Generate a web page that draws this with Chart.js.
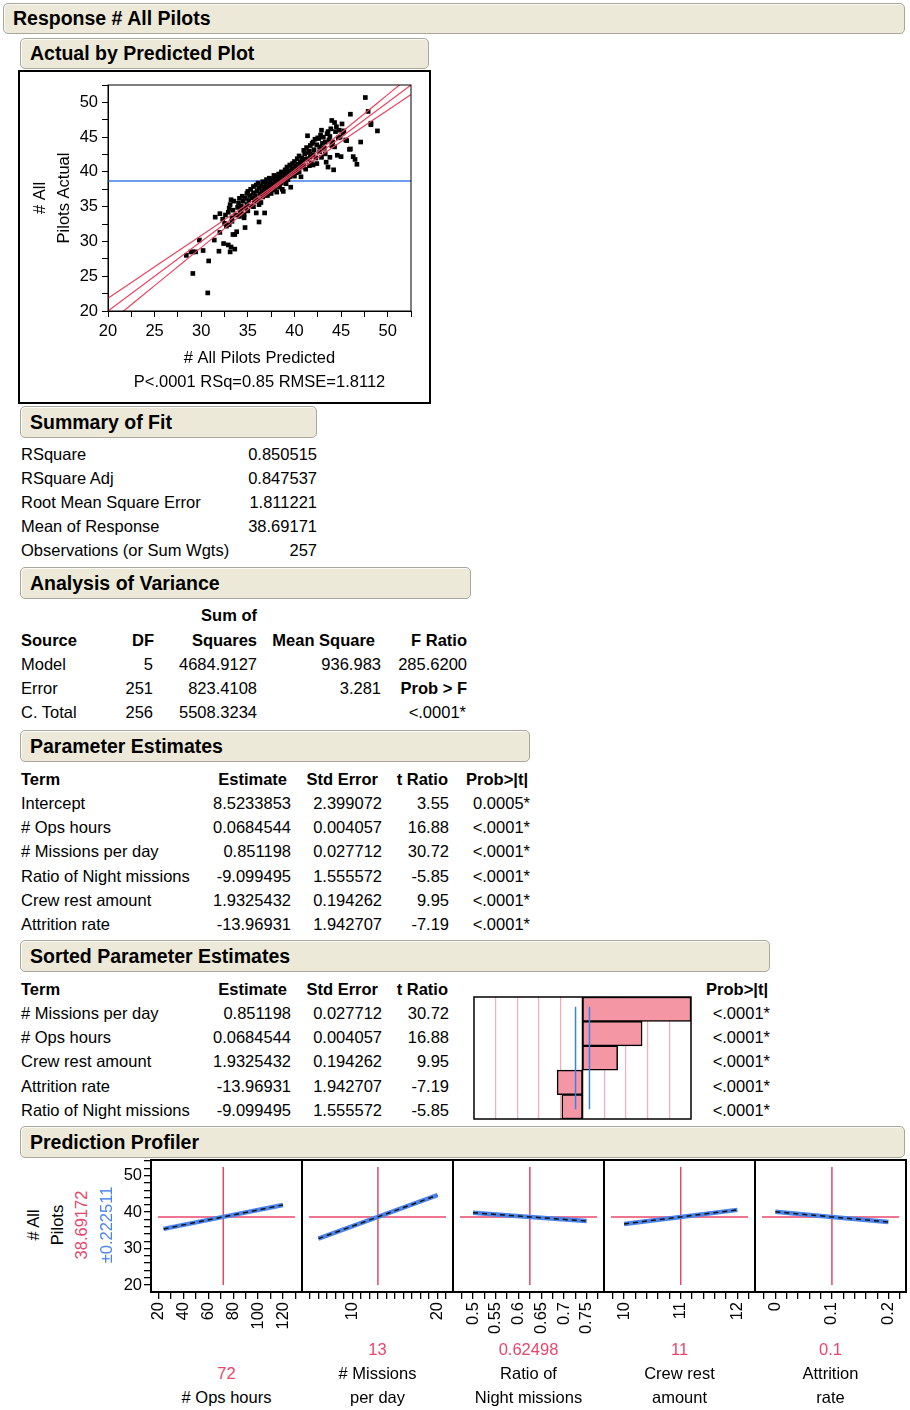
<!DOCTYPE html>
<html><head><meta charset="utf-8">
<script src="https://cdn.jsdelivr.net/npm/chart.js@4.4.1/dist/chart.umd.min.js"></script>
<style>
body{margin:0;background:#fff;font-family:'Liberation Sans',Arial,sans-serif;color:#000;}
#page{position:relative;width:910px;height:1410px;overflow:hidden;}
.hdr{position:absolute;box-sizing:border-box;background:#ece9d8;border:1.5px solid #a9a79b;border-radius:5px;font-weight:bold;font-size:19.5px;padding-left:9px;display:flex;align-items:center;box-shadow:inset 1px 1px 0 #fbfaf4;}
.t{position:absolute;font-size:16.5px;line-height:24px;white-space:nowrap;}
.b{font-weight:bold;}
.r{transform:translateX(-100%);}
.c{transform:translateX(-50%);}
canvas{position:absolute;}
.rot{position:absolute;width:140px;text-align:center;font-size:16.5px;line-height:24px;white-space:nowrap;transform:rotate(-90deg);transform-origin:50% 50%;}
</style></head><body><div id="page">
<div id="frame1" style="position:absolute;left:18px;top:70px;width:413px;height:334px;box-sizing:border-box;border:2px solid #000;"></div>
</div>
<script>
// ---------- DATA ----------
const predicted = [
 28.4,28.9,29.1,29.4,29.1,29.8,30.2,30.7,30.8,31.4,31.9,32.0,31.5,32.0,
 32.4,32.9,33.2,33.6,33.1,32.3,32.5,32.7,32.6,32.9,33.0,33.1,33.2,33.3,33.4,33.0,33.5,33.4,33.6,33.8,33.3,33.7,
 33.9,34.0,34.1,34.2,34.3,34.4,34.5,34.6,34.6,34.7,34.8,34.9,34.9,34.1,34.3,34.7,35.0,35.0,35.1,35.2,
 35.3,35.4,35.5,35.6,35.6,35.7,35.8,35.9,35.9,36.0,36.1,36.1,36.2,36.2,36.3,36.4,36.4,36.5,36.6,36.6,36.2,35.6,
 36.7,36.8,36.8,36.9,37.0,37.0,37.1,37.2,37.3,37.3,37.4,37.5,37.5,37.6,37.7,37.7,37.8,37.9,37.9,38.0,37.2,37.6,37.0,36.9,
 38.1,38.1,38.2,38.3,38.4,38.4,38.5,38.6,38.6,38.7,38.8,38.8,38.9,39.0,39.0,39.1,39.2,39.2,39.3,39.4,39.5,39.5,38.3,38.9,
 39.6,39.7,39.7,39.8,39.9,40.0,40.0,40.1,40.2,40.3,40.3,40.4,40.5,40.5,40.6,40.7,40.7,40.8,40.8,40.9,41.0,41.0,
 41.1,41.1,41.2,41.3,41.4,41.4,41.5,41.6,41.7,41.7,41.8,41.9,42.0,42.0,42.0,42.1,42.2,42.3,42.4,42.4,42.5,41.6,
 42.6,42.7,42.7,42.8,42.9,42.9,43.0,43.1,43.2,43.3,43.3,43.4,43.5,43.6,43.6,43.7,43.8,43.9,44.0,44.0,43.8,
 44.1,44.2,44.3,44.3,44.4,44.5,44.6,44.7,44.8,45.0,45.1,45.2,45.3,45.5,44.9,
 45.6,45.9,46.0,46.0,46.3,46.5,46.7,47.1,47.6,47.9,48.2,48.2,48.9
];
const actual = [
 28.0,28.5,28.5,28.5,25.4,30.2,28.7,22.6,27.2,30.2,28.6,31.3,33.5,34.0,
 29.7,29.5,29.2,28.9,28.5,33.2,32.6,32.2,33.8,34.2,34.8,35.3,36.0,33.4,34.5,32.4,35.8,31.0,31.0,31.4,32.9,33.8,
 34.9,35.5,36.2,34.2,35.1,36.5,35.8,33.9,33.4,32.0,34.8,36.9,35.3,33.6,34.6,36.2,37.2,34.4,35.9,36.6,
 37.5,35.1,36.3,37.9,37.0,35.8,36.6,38.1,34.1,37.3,36.0,38.4,32.8,37.7,36.8,38.0,35.6,37.2,38.6,36.4,35.3,35.0,
 37.8,34.1,36.9,38.3,37.4,38.9,36.6,38.0,37.0,39.1,38.4,37.6,36.9,39.0,38.2,37.4,39.5,38.6,37.7,38.9,38.6,37.9,37.9,37.5,
 37.1,39.3,38.2,39.7,38.6,37.8,39.2,40.0,38.4,37.5,39.6,37.2,38.8,40.3,39.1,38.3,40.7,39.6,38.9,40.1,39.3,41.0,38.9,39.9,
 37.8,40.5,39.7,41.2,40.2,39.4,41.5,40.8,39.9,41.9,40.4,41.1,40.0,42.3,41.4,39.3,40.8,42.0,40.7,41.6,43.1,40.9,
 41.8,42.6,40.4,43.5,45.2,41.9,42.8,40.9,43.8,42.2,41.3,44.1,44.3,42.5,41.0,43.2,44.7,42.0,43.9,41.2,44.9,43.0,
 44.8,42.9,43.6,45.3,46.0,42.1,44.1,45.0,43.4,44.3,42.6,41.4,45.5,45.8,40.7,44.6,42.1,46.2,43.8,47.4,45.1,
 44.3,40.3,47.1,43.6,45.8,46.5,42.4,44.9,46.0,42.2,46.9,45.6,45.9,44.6,45.0,
 44.5,43.25,48.3,43.3,42.2,41.8,41.1,44.3,50.7,48.7,47.0,46.8,45.9
];
const fitLineX = [20, 52.5];
const fitLineY = [20, 52.5];
const bandX     = [20, 22, 25, 28, 31, 34, 36, 38.7, 41, 44, 47, 50, 52.5];
const bandUpper = [21.83, 23.63, 26.35, 29.06, 31.77, 34.50, 36.34, 38.92, 41.32, 44.56, 47.83, 51.12, 53.86];
const bandLower = [18.17, 20.37, 23.65, 26.94, 30.23, 33.50, 35.66, 38.48, 40.68, 43.44, 46.17, 48.88, 51.14];
const meanResponse = 38.69171;
const scatterTicks = [20,22.5,25,27.5,30,32.5,35,37.5,40,42.5,45,47.5,50,52.5];
const scatterTickLabels = ['20','','25','','30','','35','','40','','45','','50',''];

const sortedTerms = ['# Missions per day','# Ops hours','Crew rest amount','Attrition rate','Ratio of Night missions'];
const sortedEstimate = ['0.851198','0.0684544','1.9325432','-13.96931','-9.099495'];
const sortedStdErr = ['0.027712','0.004057','0.194262','1.942707','1.555572'];
const sortedT = [30.72, 16.88, 9.95, -7.19, -5.85];
const sortedProb = ['<.0001*','<.0001*','<.0001*','<.0001*','<.0001*'];
const tGridLines = [-24.58,-18.43,-12.29,-6.14,6.14,12.29,18.43,24.58];
const tCritical = 1.969;

const profPrediction = 38.69172;
const profCI = '±0.222511';
const profYTicks = [20,22,24,26,28,30,32,34,36,38,40,42,44,46,48,50,52,54];
const profYLabels = ['20','','','','','30','','','','','40','','','','','50','',''];

const opsX = [24, 72, 120];            const opsY = [35.40, 38.69, 41.98];
const missionsX = [6, 13, 20];         const missionsY = [32.73, 38.69, 44.65];
const nightX = [0.5, 0.625, 0.75];     const nightY = [39.83, 38.69, 37.55];
const crewX = [10, 11, 12];            const crewY = [36.76, 38.69, 40.62];
const attritionX = [0, 0.1, 0.2];      const attritionY = [40.09, 38.69, 37.30];

const opsTicks = [20,30,40,50,60,70,80,90,100,110,120,130];
const opsLabels = ['20','','40','','60','','80','','100','','120',''];
const missionsTicks = [5,6,7,8,9,10,11,12,13,14,15,16,17,18,19,20,21];
const missionsLabels = ['','','','','','10','','','','','','','','','','20',''];
const nightTicks = [0.475,0.5,0.525,0.55,0.575,0.6,0.625,0.65,0.675,0.7,0.725,0.75,0.775];
const nightLabels = ['','0.5','','0.55','','0.6','','0.65','','0.7','','0.75',''];
const crewTicks = [9.8,10,10.2,10.4,10.6,10.8,11,11.2,11.4,11.6,11.8,12,12.2];
const crewLabels = ['','10','','','','','11','','','','','12',''];
const attritionTicks = [-0.02,0,0.02,0.04,0.06,0.08,0.1,0.12,0.14,0.16,0.18,0.2,0.22];
const attritionLabels = ['','0','','','','','0.1','','','','','0.2',''];

const profCurrent = [72, 13, 0.62498, 11, 0.1];
const profCurrentText = ['72','13','0.62498','11','0.1'];
const profNames = [['# Ops hours'],['# Missions','per day'],['Ratio of','Night missions'],['Crew rest','amount'],['Attrition','rate']];

// ---------- HELPERS ----------
const page = document.getElementById('page');
const FONT = "'Liberation Sans', Arial, sans-serif";
Chart.defaults.font.family = FONT;
Chart.defaults.font.size = 16.5;
Chart.defaults.color = '#000';
Chart.defaults.animation = false;

function hdr(text, left, top, width, height){
  const d = document.createElement('div'); d.className='hdr';
  Object.assign(d.style,{left:left+'px',top:top+'px',width:width+'px',height:height+'px'});
  d.textContent = text; page.appendChild(d);
}
function txt(s, x, y, align, bold, color){
  const d = document.createElement('div');
  d.className = 't' + (bold?' b':'') + (align==='r'?' r':align==='c'?' c':'');
  d.style.left = x+'px'; d.style.top = (y-12)+'px';
  if(color) d.style.color = color;
  d.textContent = s; page.appendChild(d);
}
function canvas(left, top, w, h){
  const c = document.createElement('canvas');
  c.width = w; c.height = h;
  Object.assign(c.style,{left:left+'px',top:top+'px',width:w+'px',height:h+'px'});
  page.appendChild(c); return c;
}
function noPad(s){ s.paddingLeft=0; s.paddingRight=0; s.paddingTop=0; s.paddingBottom=0; }
const framePlugin = { id:'frame', afterDraw(chart, args, opts){
  const {ctx, chartArea:a} = chart; ctx.save();
  ctx.strokeStyle = '#000'; ctx.lineWidth = opts.width || 1;
  ctx.strokeRect(a.left, a.top, a.right-a.left, a.bottom-a.top); ctx.restore(); } };
const pts = (xs, ys) => xs.map((x,i)=>({x, y:ys[i]}));

// ---------- HEADERS ----------
hdr('Response # All Pilots', 3, 3, 902, 31);
hdr('Actual by Predicted Plot', 20, 38, 409, 31);
hdr('Summary of Fit', 20, 406, 297, 32);
hdr('Analysis of Variance', 20, 567, 451, 32);
hdr('Parameter Estimates', 20, 730, 510, 32);
hdr('Sorted Parameter Estimates', 20, 940, 750, 32);
hdr('Prediction Profiler', 20, 1126, 885, 32);

// ---------- ACTUAL BY PREDICTED ----------
new Chart(canvas(20, 72, 409, 330), {
  type:'scatter',
  data:{ datasets:[
    {type:'line', data:pts(fitLineX, fitLineY), borderColor:'#e8435f', borderWidth:1.2, pointRadius:0},
    {type:'line', data:pts(bandX, bandUpper), borderColor:'#e8435f', borderWidth:1.2, pointRadius:0, cubicInterpolationMode:'monotone'},
    {type:'line', data:pts(bandX, bandLower), borderColor:'#e8435f', borderWidth:1.2, pointRadius:0, cubicInterpolationMode:'monotone'},
    {data:pts(predicted, actual), pointStyle:'rect', pointRadius:3.3, backgroundColor:'#000', borderColor:'#000', borderWidth:0},
    {type:'line', data:[{x:20,y:meanResponse},{x:52.5,y:meanResponse}], borderColor:'#3d7fe6', borderWidth:1.3, pointRadius:0}
  ]},
  options:{
    responsive:false, layout:{padding:{top:13,right:18,left:0,bottom:0}},
    plugins:{legend:{display:false}, tooltip:{enabled:false}, frame:{width:1}},
    scales:{
      x:{type:'linear', min:20, max:52.5,
        afterBuildTicks:s=>{ s.ticks = scatterTicks.map(v=>({value:v})); },
        ticks:{autoSkip:false, maxRotation:0, minRotation:0, padding:5, callback:(v,i)=>scatterTickLabels[i]},
        grid:{drawOnChartArea:false, tickLength:6, color:'#000'},
        border:{color:'#000'},
        title:{display:true, text:['# All Pilots Predicted','P<.0001 RSq=0.85 RMSE=1.8112'], padding:{top:0,bottom:8}, font:{lineHeight:'24px'}},
        afterFit:s=>{ s.height = 91; noPad(s); }},
      y:{type:'linear', min:20, max:52.5,
        afterBuildTicks:s=>{ s.ticks = scatterTicks.map(v=>({value:v})); },
        ticks:{autoSkip:false, padding:4, callback:(v,i)=>scatterTickLabels[i]},
        grid:{drawOnChartArea:false, tickLength:6, color:'#000'},
        border:{color:'#000'},
        title:{display:true, text:['# All','Pilots Actual'], padding:{top:8,bottom:0}, font:{lineHeight:'24px'}},
        afterFit:s=>{ s.width = 88; noPad(s); }}
    }
  },
  plugins:[framePlugin]
});

// ---------- SUMMARY OF FIT ----------
const summaryLabels = ['RSquare','RSquare Adj','Root Mean Square Error','Mean of Response','Observations (or Sum Wgts)'];
const summaryValues = ['0.850515','0.847537','1.811221','38.69171','257'];
summaryLabels.forEach((s,i)=>{ txt(s, 21, 454+24*i); txt(summaryValues[i], 317, 454+24*i, 'r'); });

// ---------- ANOVA ----------
txt('Sum of', 257, 615, 'r', true);
[['Source',21,'l'],['DF',154,'r'],['Squares',257,'r'],['Mean Square',375,'r'],['F Ratio',467,'r']].forEach(h=>txt(h[0],h[1],640,h[2],true));
const anovaSource = ['Model','Error','C. Total'];
const anovaDF = ['5','251','256'];
const anovaSS = ['4684.9127','823.4108','5508.3234'];
const anovaMS = ['936.983','3.281',''];
anovaSource.forEach((s,i)=>{ const y=664+24*i; txt(s,21,y); txt(anovaDF[i],153,y,'r'); txt(anovaSS[i],257,y,'r'); txt(anovaMS[i],381,y,'r'); });
txt('285.6200', 467, 664, 'r');
txt('Prob > F', 467, 688, 'r', true);
txt('<.0001*', 466, 712, 'r');

// ---------- PARAMETER ESTIMATES ----------
[['Term',21,'l'],['Estimate',287,'r'],['Std Error',378,'r'],['t Ratio',448,'r'],['Prob>|t|',528,'r']].forEach(h=>txt(h[0],h[1],779,h[2],true));
const peTerms = ['Intercept','# Ops hours','# Missions per day','Ratio of Night missions','Crew rest amount','Attrition rate'];
const peEstimate = ['8.5233853','0.0684544','0.851198','-9.099495','1.9325432','-13.96931'];
const peStdErr = ['2.399072','0.004057','0.027712','1.555572','0.194262','1.942707'];
const peT = ['3.55','16.88','30.72','-5.85','9.95','-7.19'];
const peProb = ['0.0005*','<.0001*','<.0001*','<.0001*','<.0001*','<.0001*'];
peTerms.forEach((s,i)=>{ const y=803+24.2*i; txt(s,21,y); txt(peEstimate[i],291,y,'r'); txt(peStdErr[i],382,y,'r'); txt(peT[i],449,y,'r'); txt(peProb[i],530,y,'r'); });

// ---------- SORTED PARAMETER ESTIMATES ----------
[['Term',21,'l'],['Estimate',287,'r'],['Std Error',378,'r'],['t Ratio',448,'r'],['Prob>|t|',768,'r']].forEach(h=>txt(h[0],h[1],989,h[2],true));
sortedTerms.forEach((s,i)=>{ const y=1013+24.2*i; txt(s,21,y); txt(sortedEstimate[i],291,y,'r'); txt(sortedStdErr[i],382,y,'r'); txt(sortedT[i].toFixed(2),449,y,'r'); txt(sortedProb[i],770,y,'r'); });

const tPlugin = { id:'tlines', afterDatasetsDraw(chart){
  const {ctx, chartArea:a, scales:{x}} = chart; ctx.save();
  ctx.strokeStyle='#000'; ctx.lineWidth=1.5;
  const x0 = x.getPixelForValue(0);
  ctx.beginPath(); ctx.moveTo(x0,a.top); ctx.lineTo(x0,a.bottom); ctx.stroke();
  ctx.strokeStyle='#3d7fe6'; ctx.lineWidth=1.5;
  const h = a.bottom-a.top;
  [-tCritical, tCritical].forEach(v=>{ const px=x.getPixelForValue(v);
    ctx.beginPath(); ctx.moveTo(px,a.top+0.08*h); ctx.lineTo(px,a.bottom-0.08*h); ctx.stroke(); });
  ctx.restore(); } };
new Chart(canvas(473, 996, 219, 124), {
  type:'bar',
  data:{ labels:sortedTerms, datasets:[{data:sortedT, backgroundColor:'#f596a4', borderColor:'#000', borderWidth:1.5, borderSkipped:false, categoryPercentage:1, barPercentage:1}]},
  options:{ indexAxis:'y', responsive:false, layout:{padding:1},
    plugins:{legend:{display:false}, tooltip:{enabled:false}, frame:{width:1.5}},
    scales:{
      x:{type:'linear', min:-30.72, max:30.72,
        afterBuildTicks:s=>{ s.ticks = tGridLines.map(v=>({value:v})); },
        ticks:{display:false}, grid:{color:'#f7aab7', drawTicks:false, lineWidth:1.2}, border:{display:false},
        afterFit:s=>{ s.height=0; noPad(s); }},
      y:{display:false}
    }},
  plugins:[tPlugin, framePlugin]
});

// ---------- PREDICTION PROFILER ----------
const panels = [
  {X:opsX, Y:opsY, ticks:opsTicks, labels:opsLabels, min:13.9, max:135.3},
  {X:missionsX, Y:missionsY, ticks:missionsTicks, labels:missionsLabels, min:4.07, max:21.83},
  {X:nightX, Y:nightY, ticks:nightTicks, labels:nightLabels, min:0.456, max:0.788},
  {X:crewX, Y:crewY, ticks:crewTicks, labels:crewLabels, min:9.647, max:12.31},
  {X:attritionX, Y:attritionY, ticks:attritionTicks, labels:attritionLabels, min:-0.036, max:0.231}
];
const panelLeft = [151, 302, 453, 604, 755];
const RED = '#e8466b';
panels.forEach((p, i)=>{
  const first = i===0, last = i===4;
  const cLeft = first ? 111 : panelLeft[i];
  const w = (first ? 40 : 0) + 151 + (last ? 2 : 0);
  const refPlugin = { id:'ref'+i, beforeDatasetsDraw(chart){
    const {ctx, chartArea:a, scales:{x,y}} = chart; ctx.save();
    ctx.strokeStyle = RED; ctx.lineWidth = 1.5;
    const py = y.getPixelForValue(profPrediction), px = x.getPixelForValue(profCurrent[i]);
    ctx.beginPath(); ctx.moveTo(a.left+7, py); ctx.lineTo(a.right-7, py); ctx.stroke();
    ctx.beginPath(); ctx.moveTo(px, a.top+7); ctx.lineTo(px, a.bottom-7); ctx.stroke();
    ctx.restore(); } };
  new Chart(canvas(cLeft, 1150, w, 192), {
    type:'scatter',
    data:{ datasets:[
      {type:'line', data:pts(p.X,p.Y), borderColor:'#111', borderWidth:1.5, borderDash:[5,4], pointRadius:0},
      {type:'line', data:pts(p.X,p.Y), borderColor:'#4a84ea', borderWidth:4.5, pointRadius:0}
    ]},
    options:{ responsive:false, layout:{padding:{top:10, left:0, right:last?2:0, bottom:0}},
      plugins:{legend:{display:false}, tooltip:{enabled:false}, frame:{width:2}},
      scales:{
        x:{type:'linear', min:p.min, max:p.max,
          afterBuildTicks:s=>{ s.ticks = p.ticks.map(v=>({value:v})); },
          ticks:{autoSkip:false, maxRotation:90, minRotation:90, padding:3, callback:(v,k)=>p.labels[k]},
          grid:{drawOnChartArea:false, tickLength:7, color:'#000', lineWidth:1.3},
          border:{display:false},
          afterFit:s=>{ s.height=50; noPad(s); }},
        y:{type:'linear', min:18.08, max:54.31, display:first,
          afterBuildTicks:s=>{ s.ticks = profYTicks.map(v=>({value:v})); },
          ticks:{autoSkip:false, padding:2, callback:(v,k)=>profYLabels[k]},
          grid:{drawOnChartArea:false, tickLength:7, color:'#000', lineWidth:1.3},
          border:{display:false},
          afterFit:s=>{ s.width = first ? 40 : 0; noPad(s); }}
      }},
    plugins:[refPlugin, framePlugin]
  });
  const cx = panelLeft[i] + 75.5;
  const lines = [[profCurrentText[i], RED]].concat(profNames[i].map(n=>[n,null]));
  lines.forEach((ln, k)=>{ txt(ln[0], cx, 1397 - 24*(lines.length-1-k), 'c', false, ln[1]); });
});
// profiler y-axis title
[['# All',33,null],['Pilots',57,null],[String(profPrediction),81,RED],[profCI,106,'#4a84ea']].forEach(a=>{
  const d = document.createElement('div'); d.className='rot';
  d.style.left = (a[1]-70)+'px'; d.style.top = (1225-12)+'px';
  if(a[2]) d.style.color = a[2];
  d.textContent = a[0]; page.appendChild(d);
});
</script></body></html>
